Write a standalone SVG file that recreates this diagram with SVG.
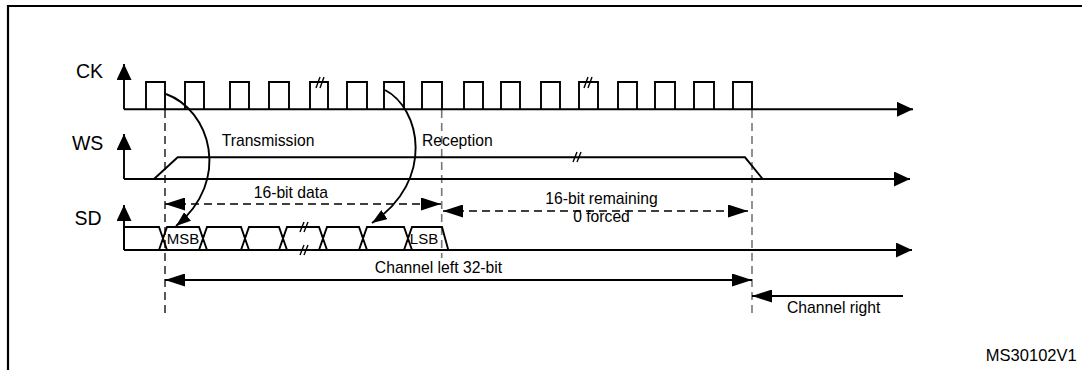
<svg xmlns="http://www.w3.org/2000/svg" width="1082" height="370" viewBox="0 0 1082 370">
<style>
.w{fill:none;stroke:#000;stroke-width:1.9}
.t{font-family:"Liberation Sans",Arial,sans-serif;font-size:15.7px;fill:#000}
.lbl{font-family:"Liberation Sans",Arial,sans-serif;font-size:19.5px;fill:#000;text-anchor:end}
.dk{fill:none;stroke:#000;stroke-width:1.3;stroke-dasharray:8,5}
.dg{fill:none;stroke:#777;stroke-width:1.6;stroke-dasharray:8,5}
.sl{fill:none;stroke:#000;stroke-width:1.4}
</style>
<defs>
<marker id="ah" viewBox="0 0 16 15" refX="16" refY="7.5" markerWidth="16" markerHeight="15" markerUnits="userSpaceOnUse" orient="auto"><path d="M0,0 L16,7.5 L0,15 z" fill="#000"/></marker>
<marker id="dm" viewBox="0 0 20 13" refX="20" refY="6.5" markerWidth="20" markerHeight="13" markerUnits="userSpaceOnUse" orient="auto-start-reverse"><path d="M0,0 L20,6.5 L0,13 z" fill="#000"/></marker>
<marker id="cm" viewBox="0 0 15 11" refX="15" refY="5.5" markerWidth="15" markerHeight="11" markerUnits="userSpaceOnUse" orient="auto"><path d="M0,0 L15,5.5 L0,11 z" fill="#000"/></marker>
</defs>
<g id="frame">
<path d="M8,370 V6 H1082" fill="none" stroke="#000" stroke-width="2.2"/>
</g>
<g id="guides">
<line class="dk" x1="165" y1="110" x2="165" y2="313"/>
<line class="dg" x1="441.7" y1="110" x2="441.7" y2="258"/>
<line class="dg" x1="752" y1="110" x2="752" y2="315"/>
</g>
<g id="ck">
<text class="lbl" x="103" y="78">CK</text>
<line class="w" x1="124" y1="109.3" x2="124" y2="64" marker-end="url(#ah)"/>
<line class="w" x1="124" y1="109.3" x2="913" y2="109.3" marker-end="url(#ah)"/>
<path class="w" d="M146,109.3V82H165V109.3 M185,109.3V82H204V109.3 M230,109.3V82H249V109.3 M269,109.3V82H289V109.3 M310,109.3V82H328V109.3 M347,109.3V82H367V109.3 M384,109.3V82H404V109.3 M422,109.3V82H442V109.3 M464,109.3V82H483V109.3 M501,109.3V82H520V109.3 M541,109.3V82H560V109.3 M579,109.3V82H598V109.3 M618,109.3V82H637V109.3 M655,109.3V82H675V109.3 M694,109.3V82H714V109.3 M733,109.3V82H752V109.3"/>
<path class="sl" d="M316,88 L320,77 M320,88 L324,77 M584,88 L588,77 M588,88 L592,77"/>
</g>
<g id="ws">
<text class="lbl" x="103.3" y="150">WS</text>
<line class="w" x1="124" y1="179" x2="124" y2="134" marker-end="url(#ah)"/>
<line class="w" x1="124" y1="179" x2="910" y2="179" marker-end="url(#ah)"/>
<path class="w" d="M154,179 L177.7,157.3 H745 L762.7,179"/>
<path class="sl" d="M573,162 L577,152 M577,162 L581,152"/>
<text class="t" x="221.7" y="146">Transmission</text>
<text class="t" x="422" y="146">Reception</text>
</g>
<g id="sd">
<text class="lbl" x="101.7" y="225">SD</text>
<line class="w" x1="124" y1="250" x2="124" y2="205" marker-end="url(#ah)"/>
<line class="w" x1="124" y1="250" x2="912" y2="250" marker-end="url(#ah)"/>
<path class="w" d="M124,250 V227 H159 L167,250 M159,250 L167,227 H199 L207,250 M199,250 L207,227 H241 L249,250 M241,250 L249,227 H279 L287,250 M279,250 L287,227 H319 L327,250 M319,250 L327,227 H359 L367,250 M359,250 L367,227 H404 L412,250 M404,250 L412,227 H442 L448.3,250"/>
<path class="sl" d="M300,232 L304,222 M304,232 L308,222 M300,255 L304,245 M304,255 L308,245"/>
<text class="t" x="183" y="244" text-anchor="middle" style="font-size:15px">MSB</text>
<text class="t" x="424" y="244" text-anchor="middle" style="font-size:15px">LSB</text>
</g>
<g id="connectors">
<path class="w" d="M166,94 C210,110 232,180 176,226" marker-end="url(#cm)"/>
<path class="w" d="M385,90 C420,108 436,180 372,223" marker-end="url(#cm)"/>
<line class="dk" x1="165" y1="204" x2="441" y2="204" marker-start="url(#dm)" marker-end="url(#dm)"/>
<line class="dk" x1="443" y1="211" x2="748" y2="211" marker-start="url(#dm)" marker-end="url(#dm)"/>
<line class="w" x1="165" y1="280" x2="752" y2="280" stroke-width="1.3" marker-start="url(#dm)" marker-end="url(#dm)"/>
<line class="w" x1="903" y1="296" x2="752" y2="296" stroke-width="1.3" marker-end="url(#dm)"/>
</g>
<g id="labels">
<text class="t" x="290.8" y="198" text-anchor="middle">16-bit data</text>
<text class="t" x="601.5" y="204" text-anchor="middle">16-bit remaining</text>
<text class="t" x="601.5" y="221.7" text-anchor="middle">0 forced</text>
<text class="t" x="438.5" y="272.7" text-anchor="middle">Channel left 32-bit</text>
<text class="t" x="787" y="313">Channel right</text>
<text class="t" x="1076.7" y="360.7" text-anchor="end" style="font-size:16.5px">MS30102V1</text>
</g>
</svg>
